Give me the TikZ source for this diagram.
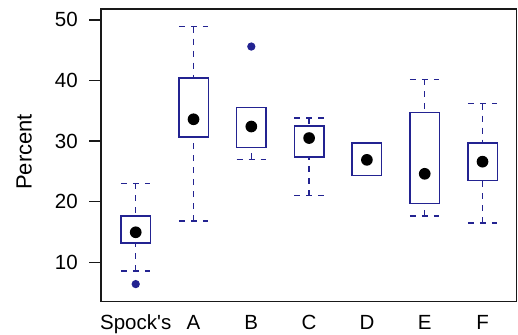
\documentclass[tikz,border=0pt]{standalone}
\usepackage{fontspec}
\setmainfont{Liberation Sans}
\definecolor{boxblue}{RGB}{35,35,145}

\begin{document}
\begin{tikzpicture}[
    x=57.8pt, y=6.06pt,
    frame/.style={draw=black!90, line width=1.6pt},
    tickmark/.style={draw=black!90, line width=1.5pt},
    boxrect/.style={draw=boxblue, line width=1.5pt},
    whisk/.style={draw=boxblue, line width=1.5pt, dash pattern=on 6pt off 6pt},
    meddot/.style={circle, fill=black, inner sep=0pt, minimum size=11.7pt},
    outdot/.style={circle, fill=boxblue, inner sep=0pt, minimum size=8.3pt},
    lbl/.style={font=\fontsize{20.5}{24}\selectfont, inner sep=0pt}
]
    \useasboundingbox (-1.348,-2.0) rectangle (7.614,53.28);

    % --- Frame and y axis ---
    \draw[frame] (0.4,3.5) rectangle (7.59,51.8);
    \foreach \v in {10,20,...,50} {
        \draw[tickmark] (0.4,\v) -- (0.192,\v);
        \node[lbl, anchor=east] (tick\v) at (0.0,\v) {\v};
    }
    \node[lbl, font=\fontsize{22}{26}\selectfont, rotate=90, anchor=base] (ylab) at (-0.8,28.2) {Percent};

    % --- Boxes: index/name/lower whisker/Q1/median/Q3/upper whisker ---
    \foreach \i/\name/\wlo/\qlo/\med/\qhi/\whi in {
        1/Spock\textquotesingle s/8.6/13.2/14.95/17.64/23.0,
        2/A/16.8/30.7/33.6/40.4/48.9,
        3/B/27.0/28.9/32.4/35.5/35.5,
        4/C/21.0/27.4/30.5/32.5/33.8,
        5/D/24.3/24.3/26.9/29.7/29.7,
        6/E/17.6/19.7/24.6/34.75/40.2,
        7/F/16.5/23.5/26.6/29.7/36.2} {
        \draw[whisk] (\i,\whi) -- (\i,\qhi);
        \draw[whisk] (\i,\wlo) -- (\i,\qlo);
        \draw[whisk] (\i-0.255,\whi) -- (\i+0.255,\whi);
        \draw[whisk] (\i-0.255,\wlo) -- (\i+0.255,\wlo);
        \draw[boxrect] (\i-0.255,\qlo) rectangle (\i+0.255,\qhi);
        \node[meddot] (med\i) at (\i,\med) {};
        \node[lbl, anchor=base] (xlab\i) at (\i,-1.056) {\name};
    }

    % --- Outliers ---
    \node[outdot] (out1) at (1,6.4) {};
    \node[outdot] (out3) at (3,45.6) {};
\end{tikzpicture}
\end{document}
